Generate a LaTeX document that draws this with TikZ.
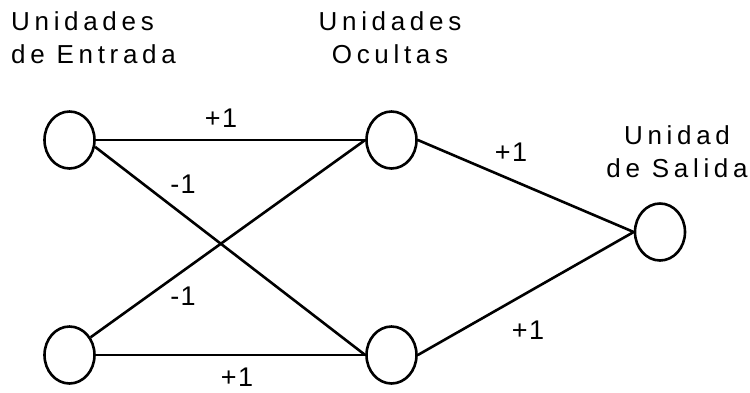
\documentclass[tikz,border=0pt]{standalone}
\usepackage{fontspec}
\setmainfont{Liberation Sans}
\usetikzlibrary{shapes.geometric}
\tikzset{
  unit/.style={ellipse, draw, line width=2.6pt, minimum width=50pt, minimum height=57pt, inner sep=0pt},
  conn/.style={line width=2.6pt},
  head/.style={font=\fontsize{26}{33}\selectfont\addfontfeature{LetterSpace=18}, inner sep=0pt},
  wlabel/.style={font=\fontsize{27}{30}\selectfont\addfontfeature{LetterSpace=5}, inner sep=0pt}
}
\begin{document}
\begin{tikzpicture}[x=1pt,y=-1pt]
\useasboundingbox (0,0) rectangle (750,392);
\node[unit] (in1) at (69.5,140) {};
\node[unit] (in2) at (69.5,355) {};
\node[unit] (h1) at (391.5,140) {};
\node[unit] (h2) at (391.5,355) {};
\node[unit] (out) at (660,232) {};
\draw[conn] (in1.east) -- (h1.west);
\draw[conn] (in1.-15) -- (h2.west);
\draw[conn] (in2.40) -- (h1.west);
\draw[conn] (in2.east) -- (h2.west);
\draw[conn] (h1.east) -- (out.west);
\draw[conn] (h2.east) -- (out.west);
\node[head, align=left, anchor=north west] (t1) at (11,11) {Unidades\\de Entrada};
\node[head, align=center, anchor=north] (t2) at (390,11) {Unidades\\Ocultas};
\node[head, align=center, anchor=north] (t3) at (677,125) {Unidad\\de Salida};
\node[wlabel] (l1) at (221,118) {+1};
\node[wlabel] (l2) at (183,184) {-1};
\node[wlabel] (l3) at (183,296) {-1};
\node[wlabel] (l4) at (237,377) {+1};
\node[wlabel] (l5) at (511,152) {+1};
\node[wlabel] (l6) at (528,330) {+1};
\end{tikzpicture}
\end{document}
